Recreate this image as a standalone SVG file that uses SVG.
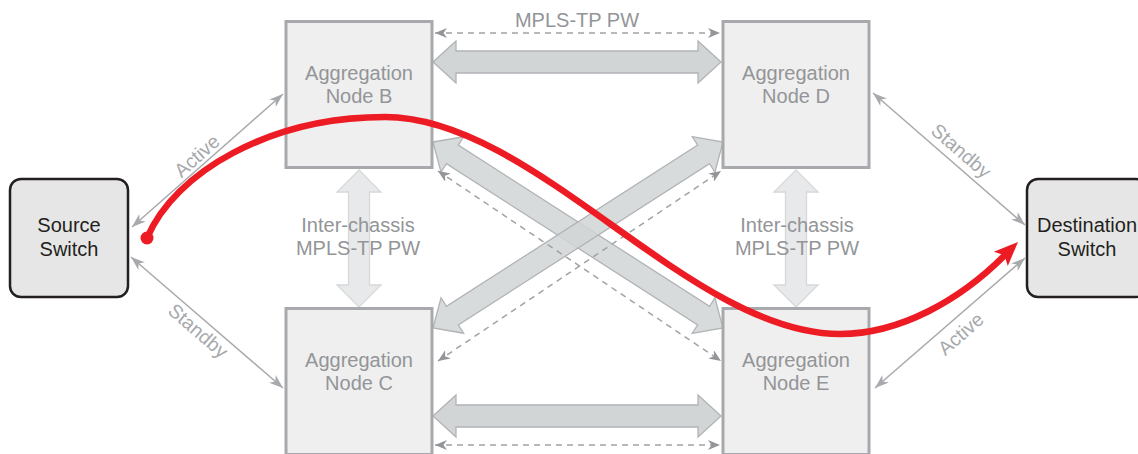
<svg xmlns="http://www.w3.org/2000/svg" width="1138" height="454" viewBox="0 0 1138 454">
<style>
.sw{fill:#e6e6e6;stroke:#231f20;stroke-width:2.5}
.swt{font-family:"Liberation Sans",Arial,sans-serif;font-size:20px;fill:#231f20;text-anchor:middle}
.ag{fill:#efefef;stroke:#a7a9ac;stroke-width:3}
.agt{font-family:"Liberation Sans",Arial,sans-serif;font-size:20px;fill:#939598;text-anchor:middle}
.lbl{font-family:"Liberation Sans",Arial,sans-serif;font-size:19.5px;fill:#a7a9ac;text-anchor:middle}
.fat{fill:#d1d5d5;stroke:#b1b3b6;stroke-width:1.3}
.fatd{fill:#d1d5d5;fill-opacity:0.85;stroke:#b1b3b6;stroke-width:1.3}
.vert{fill:#e8e9ea;stroke:#d6d8d9;stroke-width:1.3}
.dash{stroke:#a0a2a5;stroke-width:1.5;stroke-dasharray:6 5;fill:none;marker-start:url(#dh);marker-end:url(#dh)}
.thin{stroke:#a7a9ac;stroke-width:1.5;fill:none;marker-start:url(#th);marker-end:url(#th)}
</style>
<defs>
<marker id="dh" viewBox="0 0 12 10" refX="12" refY="5" markerWidth="12" markerHeight="10" markerUnits="userSpaceOnUse" orient="auto-start-reverse">
<path d="M0,0 L12,5 L0,10 L3.5,5 Z" fill="#939598"/>
</marker>
<marker id="th" viewBox="0 0 14 10" refX="14" refY="5" markerWidth="14" markerHeight="10" markerUnits="userSpaceOnUse" orient="auto-start-reverse">
<path d="M0,0 L14,5 L0,10 L4,5 Z" fill="#a7a9ac"/>
</marker>
</defs>

<g id="connectors">
<path class="vert" transform="translate(359,170) rotate(90)" d="M0,0 L22,-22 L22,-10.5 L115,-10.5 L115,-22 L137,0 L115,22 L115,10.5 L22,10.5 L22,22 Z"/>
<path class="vert" transform="translate(796,170) rotate(90)" d="M0,0 L22,-22 L22,-10.5 L115,-10.5 L115,-22 L137,0 L115,22 L115,10.5 L22,10.5 L22,22 Z"/>
<path class="fat" transform="translate(433,62)" d="M0,0 L23,-21 L23,-11 L265,-11 L265,-21 L288,0 L265,21 L265,11 L23,11 L23,21 Z"/>
<path class="fat" transform="translate(433,416)" d="M0,0 L23,-21 L23,-11 L265,-11 L265,-21 L288,0 L265,21 L265,11 L23,11 L23,21 Z"/>
<path class="fatd" transform="translate(433,142) rotate(32.68)" d="M0,0 L23,-21 L23,-11 L321.5,-11 L321.5,-21 L344.5,0 L321.5,21 L321.5,11 L23,11 L23,21 Z"/>
<path class="fatd" transform="translate(433,328) rotate(-32.68)" d="M0,0 L23,-21 L23,-11 L321.5,-11 L321.5,-21 L344.5,0 L321.5,21 L321.5,11 L23,11 L23,21 Z"/>
<line class="dash" x1="435" y1="33" x2="720" y2="33"/>
<line class="dash" x1="435" y1="445" x2="720" y2="445"/>
<line class="dash" x1="438" y1="171" x2="721" y2="361"/>
<line class="dash" x1="438" y1="361" x2="721" y2="171"/>
<line class="thin" x1="132" y1="227" x2="283" y2="94"/>
<line class="thin" x1="131" y1="257" x2="283" y2="388"/>
<line class="thin" x1="873" y1="93" x2="1025" y2="225"/>
<line class="thin" x1="1025" y1="258" x2="875" y2="388"/>
<text class="agt" x="577" y="27">MPLS-TP PW</text>
<text class="agt" x="358" y="232">Inter-chassis</text>
<text class="agt" x="358" y="255">MPLS-TP PW</text>
<text class="agt" x="797" y="232">Inter-chassis</text>
<text class="agt" x="797" y="255">MPLS-TP PW</text>
<text class="lbl" transform="translate(197,156) rotate(-41.4)" y="6.5">Active</text>
<text class="lbl" transform="translate(198,331) rotate(40.8)" y="6.5">Standby</text>
<text class="lbl" transform="translate(961,151) rotate(41)" y="6.5">Standby</text>
<text class="lbl" transform="translate(961,334) rotate(-41)" y="6.5">Active</text>
</g>

<g id="source-switch">
<rect class="sw" x="10" y="179" width="118" height="118" rx="11"/>
<text class="swt" x="69" y="232">Source</text>
<text class="swt" x="69" y="256">Switch</text>
</g>
<g id="destination-switch">
<rect class="sw" x="1027" y="179" width="120" height="118" rx="11"/>
<text class="swt" x="1087" y="232">Destination</text>
<text class="swt" x="1087" y="256">Switch</text>
</g>
<g id="node-b">
<rect class="ag" x="286" y="21.5" width="146" height="146"/>
<text class="agt" x="359" y="80">Aggregation</text>
<text class="agt" x="359" y="103">Node B</text>
</g>
<g id="node-d">
<rect class="ag" x="723" y="21.5" width="146" height="146"/>
<text class="agt" x="796" y="80">Aggregation</text>
<text class="agt" x="796" y="103">Node D</text>
</g>
<g id="node-c">
<rect class="ag" x="286" y="308.5" width="146" height="146"/>
<text class="agt" x="359" y="367">Aggregation</text>
<text class="agt" x="359" y="390">Node C</text>
</g>
<g id="node-e">
<rect class="ag" x="723" y="308.5" width="146" height="146"/>
<text class="agt" x="796" y="367">Aggregation</text>
<text class="agt" x="796" y="390">Node E</text>
</g>

<g id="red-path">
<circle cx="147" cy="238" r="6.5" fill="#ed1c24"/>
<path d="M147,238 C175,172 270,117 385,117 C535,117 690,334 840,334 C900,334 960,300 1004,256" fill="none" stroke="#ed1c24" stroke-width="6.5" stroke-linecap="round"/>
<path d="M1018,242 L1007.8,266 L1004.4,255.3 L993.8,251.7 Z" fill="#ed1c24"/>
</g>
</svg>
